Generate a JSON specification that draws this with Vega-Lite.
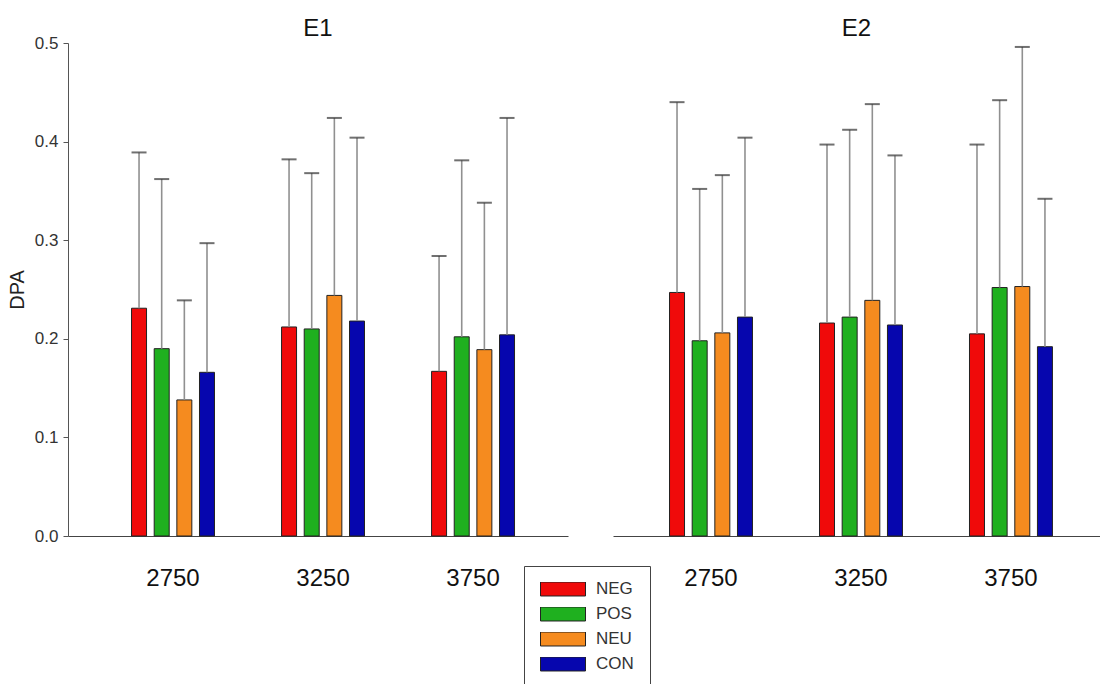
{
  "$schema": "https://vega.github.io/schema/vega-lite/v6.json",
  "background": "white",
  "padding": {"left": 7, "top": 17, "right": 0, "bottom": 0},
  "autosize": {"type": "pad"},
  "bounds": "flush",
  "spacing": 45,
  "data": {
    "values": [
      {"exp": "E1", "freq": "2750", "cond": "NEG", "dpa": 0.231, "upper": 0.389},
      {"exp": "E1", "freq": "2750", "cond": "POS", "dpa": 0.190, "upper": 0.362},
      {"exp": "E1", "freq": "2750", "cond": "NEU", "dpa": 0.138, "upper": 0.239},
      {"exp": "E1", "freq": "2750", "cond": "CON", "dpa": 0.166, "upper": 0.297},
      {"exp": "E1", "freq": "3250", "cond": "NEG", "dpa": 0.212, "upper": 0.382},
      {"exp": "E1", "freq": "3250", "cond": "POS", "dpa": 0.210, "upper": 0.368},
      {"exp": "E1", "freq": "3250", "cond": "NEU", "dpa": 0.244, "upper": 0.424},
      {"exp": "E1", "freq": "3250", "cond": "CON", "dpa": 0.218, "upper": 0.404},
      {"exp": "E1", "freq": "3750", "cond": "NEG", "dpa": 0.167, "upper": 0.284},
      {"exp": "E1", "freq": "3750", "cond": "POS", "dpa": 0.202, "upper": 0.381},
      {"exp": "E1", "freq": "3750", "cond": "NEU", "dpa": 0.189, "upper": 0.338},
      {"exp": "E1", "freq": "3750", "cond": "CON", "dpa": 0.204, "upper": 0.424},
      {"exp": "E2", "freq": "2750", "cond": "NEG", "dpa": 0.247, "upper": 0.440},
      {"exp": "E2", "freq": "2750", "cond": "POS", "dpa": 0.198, "upper": 0.352},
      {"exp": "E2", "freq": "2750", "cond": "NEU", "dpa": 0.206, "upper": 0.366},
      {"exp": "E2", "freq": "2750", "cond": "CON", "dpa": 0.222, "upper": 0.404},
      {"exp": "E2", "freq": "3250", "cond": "NEG", "dpa": 0.216, "upper": 0.397},
      {"exp": "E2", "freq": "3250", "cond": "POS", "dpa": 0.222, "upper": 0.412},
      {"exp": "E2", "freq": "3250", "cond": "NEU", "dpa": 0.239, "upper": 0.438},
      {"exp": "E2", "freq": "3250", "cond": "CON", "dpa": 0.214, "upper": 0.386},
      {"exp": "E2", "freq": "3750", "cond": "NEG", "dpa": 0.205, "upper": 0.397},
      {"exp": "E2", "freq": "3750", "cond": "POS", "dpa": 0.252, "upper": 0.442},
      {"exp": "E2", "freq": "3750", "cond": "NEU", "dpa": 0.253, "upper": 0.496},
      {"exp": "E2", "freq": "3750", "cond": "CON", "dpa": 0.192, "upper": 0.342}
    ]
  },
  "hconcat": [
    {
      "title": {"text": "E1", "frame": "group", "offset": -7},
      "width": 500,
      "height": 493,
      "transform": [{"filter": "datum.exp === 'E1'"}],
      "encoding": {
        "x": {
          "field": "freq", "type": "nominal",
          "scale": {"paddingInner": 0.447, "paddingOuter": 0.39, "align": 0.543},
          "axis": {"title": null}
        },
        "xOffset": {
          "field": "cond", "type": "nominal",
          "sort": ["NEG", "POS", "NEU", "CON"],
          "scale": {"paddingInner": 0.338, "paddingOuter": 0}
        }
      },
      "layer": [
        {
          "mark": {"type": "bar", "stroke": "#222", "strokeWidth": 1},
          "encoding": {
            "y": {
              "field": "dpa", "type": "quantitative",
              "scale": {"domain": [0, 0.5], "nice": false},
              "axis": {"title": "DPA", "values": [0, 0.1, 0.2, 0.3, 0.4, 0.5], "format": ".1f"}
            },
            "fill": {
              "field": "cond", "type": "nominal",
              "sort": ["NEG", "POS", "NEU", "CON"],
              "scale": {"domain": ["NEG", "POS", "NEU", "CON"], "range": ["#f00a0a", "#1fb01f", "#f58b1f", "#0606ae"]},
              "legend": {
                "title": null, "orient": "none", "legendX": 456, "legendY": 523,
                "direction": "vertical",
                "symbolType": "M-1,-0.311H1V0.311H-1Z", "symbolSize": 2025,
                "symbolStrokeColor": "#222", "symbolStrokeWidth": 1, "symbolOpacity": 1,
                "clipHeight": 14, "rowPadding": 8, "labelOffset": 10,
                "labelFontSize": 17, "labelColor": "#333",
                "strokeColor": "#444", "fillColor": "white", "padding": 16
              }
            }
          }
        },
        {
          "mark": {"type": "rule", "color": "#909090", "strokeWidth": 1.6},
          "encoding": {
            "y": {
              "field": "dpa", "type": "quantitative",
              "scale": {"domain": [0, 0.5], "nice": false},
              "axis": {"title": "DPA", "values": [0, 0.1, 0.2, 0.3, 0.4, 0.5], "format": ".1f"}
            },
            "y2": {"field": "upper"}
          }
        },
        {
          "mark": {"type": "tick", "color": "#333", "thickness": 2, "size": 15},
          "encoding": {
            "y": {
              "field": "upper", "type": "quantitative",
              "axis": {"title": "DPA", "values": [0, 0.1, 0.2, 0.3, 0.4, 0.5], "format": ".1f"}
            }
          }
        }
      ]
    },
    {
      "title": {"text": "E2", "frame": "group", "offset": 2},
      "width": 487,
      "height": 493,
      "transform": [{"filter": "datum.exp === 'E2'"}],
      "encoding": {
        "x": {
          "field": "freq", "type": "nominal",
          "scale": {"paddingInner": 0.447, "paddingOuter": 0.347, "align": 0.543},
          "axis": {"title": null}
        },
        "xOffset": {
          "field": "cond", "type": "nominal",
          "sort": ["NEG", "POS", "NEU", "CON"],
          "scale": {"paddingInner": 0.338, "paddingOuter": 0}
        }
      },
      "layer": [
        {
          "mark": {"type": "bar", "stroke": "#222", "strokeWidth": 1},
          "encoding": {
            "y": {"field": "dpa", "type": "quantitative", "scale": {"domain": [0, 0.5], "nice": false}, "axis": null},
            "fill": {
              "field": "cond", "type": "nominal",
              "sort": ["NEG", "POS", "NEU", "CON"],
              "scale": {"domain": ["NEG", "POS", "NEU", "CON"], "range": ["#f00a0a", "#1fb01f", "#f58b1f", "#0606ae"]},
              "legend": null
            }
          }
        },
        {
          "mark": {"type": "rule", "color": "#909090", "strokeWidth": 1.6},
          "encoding": {
            "y": {"field": "dpa", "type": "quantitative", "scale": {"domain": [0, 0.5], "nice": false}, "axis": null},
            "y2": {"field": "upper"}
          }
        },
        {
          "mark": {"type": "tick", "color": "#333", "thickness": 2, "size": 15},
          "encoding": {
            "y": {"field": "upper", "type": "quantitative", "axis": null}
          }
        }
      ]
    }
  ],
  "resolve": {"scale": {"x": "independent", "fill": "independent", "y": "independent"}},
  "config": {
    "font": "Liberation Sans",
    "view": {"stroke": null},
    "title": {"fontSize": 24, "fontWeight": "normal", "color": "#111", "baseline": "alphabetic"},
    "axisX": {
      "labelAngle": 0, "ticks": false, "labelPadding": 30, "labelFontSize": 24,
      "domainColor": "#444", "labelColor": "#111"
    },
    "axisY": {
      "grid": false, "tickSize": 5, "labelPadding": 5, "labelFontSize": 17,
      "titleFontSize": 20, "titleFontWeight": "normal", "titlePadding": 7,
      "domainColor": "#555", "tickColor": "#555", "labelColor": "#333", "titleColor": "#222"
    }
  }
}
